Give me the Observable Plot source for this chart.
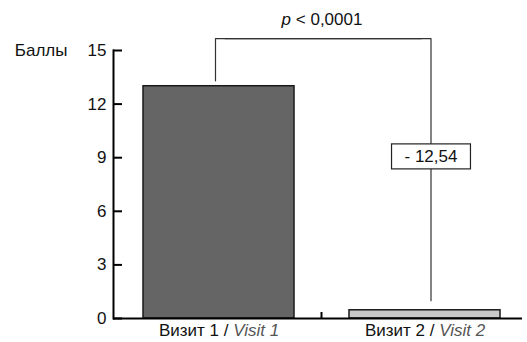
<!DOCTYPE html>
<html><head><meta charset="utf-8">
<script src="https://cdn.jsdelivr.net/npm/d3@7"></script>
<script src="https://cdn.jsdelivr.net/npm/@observablehq/plot@0.6"></script>
<style>
body{margin:0;background:#fff}
svg{font-family:"Liberation Sans",Arial,Helvetica,sans-serif}
</style>
</head><body><div id="chart"></div>
<script>
const categories = ["Визит 1", "Визит 2"];
const categoriesEn = ["Visit 1", "Visit 2"];
const scores = [13.0, 0.46];
const barColors = ["#656565", "#c8c8c8"];
const yTicks = [0, 3, 6, 9, 12, 15];
const yLabel = "Баллы";
const pLetter = "p";
const pRest = " < 0,0001";
const diffText = "- 12,54";
const bracketY = [13.3, 15.67, 15.67, 1.0];
const diffY = 9.07;
const pY = 16.75;

const data = categories.map((c, i) => ({cat: c, value: scores[i], fill: barColors[i]}));
const bracketLeft = [
  {cat: categories[0], y: bracketY[0]},
  {cat: categories[0], y: bracketY[1]},
  {cat: categories[1], y: bracketY[2]}
];
const bracketRight = [
  {cat: categories[0], y: bracketY[1]},
  {cat: categories[1], y: bracketY[2]},
  {cat: categories[1], y: bracketY[3]}
];

const W = 527, H = 342, mL = 113, mR = 5, mT = 50, mB = 24;
const FS = 17;

const plot = Plot.plot({
  width: W, height: H,
  marginLeft: mL, marginRight: mR, marginTop: mT, marginBottom: mB,
  style: {fontSize: FS + "px", fontFamily: "'Liberation Sans', Arial, sans-serif", color: "#111", background: "white", overflow: "visible"},
  x: {domain: categories, paddingInner: 0.269, paddingOuter: 0.125, align: 0.563, label: null},
  y: {domain: [0, 15], label: null},
  marks: [
    Plot.barY(data, {x: "cat", y: "value", fill: "fill", stroke: "#1a1a1a", strokeWidth: 1.5}),
    Plot.line(bracketLeft, {x: "cat", y: "y", dx: -3.5, stroke: "#333", strokeWidth: 1.2}),
    Plot.line(bracketRight, {x: "cat", y: "y", dx: 6, stroke: "#333", strokeWidth: 1.2}),
    Plot.text([diffText], {text: d => d, x: () => categories[1], y: () => diffY, dx: 6, fontSize: FS, fill: "#111"}),
    Plot.text([pLetter + pRest], {text: d => d, y: () => pY, dx: 4, fontSize: FS, fill: "#111"}),
    Plot.text([yLabel], {text: d => d, y: () => 15, frameAnchor: "left", textAnchor: "end", dx: -46, fontSize: FS, fill: "#111"}),
    Plot.ruleY([0], {stroke: "#000", strokeWidth: 2}),
    Plot.frame({anchor: "left", stroke: "#000", strokeWidth: 2}),
    Plot.tickY(yTicks, {y: d => d, insetRight: W - mL - mR - 9, stroke: "#000", strokeWidth: 2}),
    Plot.axisY({ticks: yTicks, tickSize: 0, tickPadding: 7, label: null, fontSize: FS}),
    Plot.axisX({tickSize: 0, tickPadding: 5, label: null, fontSize: FS})
  ]
});
document.getElementById("chart").appendChild(plot);

const svg = d3.select(plot);
svg.selectAll("text").each(function() {
  const t = d3.select(this);
  const txt = this.textContent;
  const i = categories.indexOf(txt);
  if (i >= 0) {
    t.text(null);
    t.append("tspan").text(txt + " / ");
    t.append("tspan").attr("font-style", "italic").attr("fill", "#555").text(categoriesEn[i]);
  } else if (txt === pLetter + pRest) {
    t.text(null);
    t.append("tspan").attr("font-style", "italic").text(pLetter);
    t.append("tspan").text(pRest);
  } else if (txt === diffText) {
    const bb = this.getBBox();
    const tr = this.getAttribute("transform");
    d3.select(this.parentNode).insert("rect", "text")
      .attr("transform", tr)
      .attr("x", bb.x - 13).attr("y", bb.y - 3)
      .attr("width", bb.width + 26).attr("height", bb.height + 6)
      .attr("fill", "white").attr("stroke", "#222").attr("stroke-width", 1.2);
  }
});
// small tick between the categories on the x axis
const xs = plot.scale("x"), ys = plot.scale("y");
const xm = xs.apply(categories[1]) - (xs.step - xs.bandwidth) / 2;
svg.append("line")
  .attr("x1", xm).attr("x2", xm)
  .attr("y1", ys.apply(0)).attr("y2", ys.apply(0) - 6)
  .attr("stroke", "#000").attr("stroke-width", 2);
</script>
</body></html>
